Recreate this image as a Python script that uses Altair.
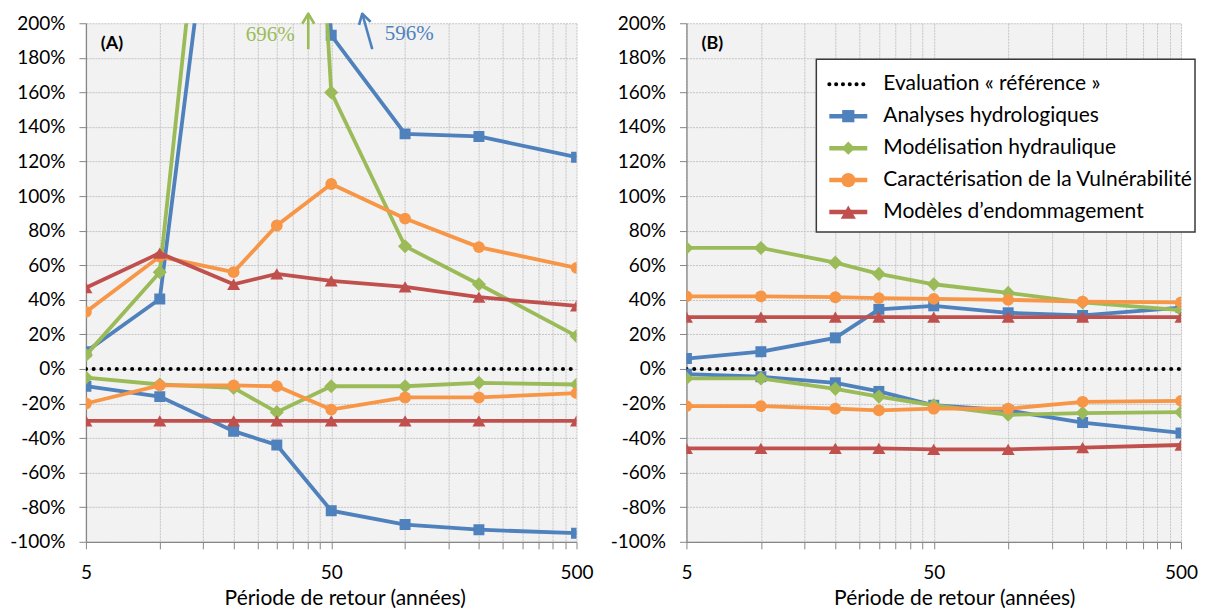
import altair as alt
import pandas as pd

# ---------------- data ----------------
periods = [5, 10, 20, 30, 50, 100, 200, 500]
methods = ["Analyses hydrologiques", "Modélisation hydraulique",
           "Caractérisation de la Vulnérabilité", "Modèles d’endommagement"]
reference_name = "Evaluation « référence »"
reference_values = [0, 0, 0, 0, 0, 0, 0, 0]
colors = ["#4f81bd", "#9bbb59", "#f79646", "#c0504d"]
shapes = ["square", "diamond", "circle", "triangle-up"]
shape_sizes = [120, 200, 140, 170]
legend_shape_sizes = [150, 230, 160, 200]

# Panel (A) – upper / lower bounds (%)
a_hydro_hi = [10, 40.5, 379, 596, 193, 136, 134.5, 122.5]
a_hydro_lo = [-10, -16, -36, -44, -82, -90, -93, -95]
a_hydrau_hi = [8, 56, 457, 696, 160, 71, 49, 19]
a_hydrau_lo = [-5, -9, -11, -25, -10, -10, -8, -9]
a_vuln_hi = [33, 65, 56, 83, 107, 87, 70.5, 58.5]
a_vuln_lo = [-20, -9.5, -9.5, -10, -23.5, -16.5, -16.5, -14]
a_endo_hi = [47, 67, 49, 55, 51, 47.5, 41.5, 36.5]
a_endo_lo = [-30, -30, -30, -30, -30, -30, -30, -30]

# Panel (B)
b_hydro_hi = [6, 10, 18, 34.5, 36.5, 32.5, 31, 35.5]
b_hydro_lo = [-3, -4.5, -8, -13, -21, -24, -31, -37]
b_hydrau_hi = [70, 70, 61.5, 55, 49, 44, 38.5, 34]
b_hydrau_lo = [-5.5, -5.5, -11.5, -16, -21, -26.5, -25.5, -25]
b_vuln_hi = [42, 42, 41.5, 41, 40.5, 40, 39, 38.5]
b_vuln_lo = [-21.5, -21.5, -23, -24, -23, -23, -19, -18.5]
b_endo_hi = [30, 30, 30, 30, 30, 30, 30, 30]
b_endo_lo = [-46, -46, -46, -46, -46.5, -46.5, -45.5, -44]

# axis ticks
x_ticks = [5, 10, 15, 20, 25, 30, 35, 40, 45, 50,
           100, 150, 200, 250, 300, 350, 400, 450, 500]
x_labels = [5, 50, 500]
y_ticks = [-100, -80, -60, -40, -20, 0, 20, 40, 60, 80, 100, 120, 140, 160, 180, 200]

# off-scale annotations in panel (A)
ann_text = ["696%", "596%"]
ann_color = ["#9bbb59", "#4f81bd"]
ann_text_x = [28.2, 104]
ann_text_y = [193, 193.5]
arrow_tail_x = [40.3, 73.5]
arrow_tail_y = [185, 185]
arrow_tip_x = [40.3, 66.9]
arrow_tip_y = [205.5, 205.5]
arrow_angle = [0, 345]

FONT = "Lato"
GRID = "#c4c4c4"
AXIS = "#868686"

panel_data = {
    "A": [(a_hydro_hi, a_hydro_lo), (a_hydrau_hi, a_hydrau_lo),
          (a_vuln_hi, a_vuln_lo), (a_endo_hi, a_endo_lo)],
    "B": [(b_hydro_hi, b_hydro_lo), (b_hydrau_hi, b_hydrau_lo),
          (b_vuln_hi, b_vuln_lo), (b_endo_hi, b_endo_lo)],
}

color_scale = alt.Scale(domain=methods, range=colors)
shape_scale = alt.Scale(domain=methods, range=shapes)
x_scale = alt.Scale(type="log", domain=[5, 500], nice=False)
y_scale = alt.Scale(domain=[-100, 200], nice=False, zero=False)

label_test = " || ".join(f"datum.value == {v}" for v in x_labels)


def make_axes(title_x):
    xa = alt.Axis(values=x_ticks, labelExpr=f"({label_test}) ? datum.value : ''",
                  labelOverlap=False, labelFlush=False, labelFont=FONT, labelFontSize=19,
                  labelColor="black", labelPadding=15, tickSize=7, tickColor=AXIS,
                  domainColor=AXIS, domainWidth=1.3, grid=True, gridColor=GRID,
                  gridDash=[2, 1], gridWidth=1, title="Période de retour (années)",
                  titleFont=FONT, titleFontSize=21, titleFontWeight="normal",
                  titleColor="black", titleX=title_x, titleY=57, titleBaseline="middle")
    ya = alt.Axis(values=y_ticks, labelExpr="datum.value + '%'", labelFont=FONT,
                  labelFontSize=19, labelColor="black", labelPadding=14, tickSize=7,
                  tickColor=AXIS, domainColor=AXIS, domainWidth=1.3, grid=True,
                  gridColor=GRID, gridDash=[2, 1], gridWidth=1, title=None)
    return xa, ya


def make_panel(panel, title_x):
    xa, ya = make_axes(title_x)
    X = alt.X("period:Q", scale=x_scale, axis=xa)
    Y = alt.Y("value:Q", scale=y_scale, axis=ya)
    layers = []
    ref_df = pd.DataFrame({"period": periods, "value": reference_values})
    layers.append(alt.Chart(ref_df).mark_line(
        color="black", strokeWidth=4, strokeDash=[0.1, 7.6], strokeCap="round", clip=True
    ).encode(x=X, y=Y))
    for i, m in enumerate(methods):
        hi, lo = panel_data[panel][i]
        rows = []
        for bound, vals in (("hi", hi), ("lo", lo)):
            for p, v in zip(periods, vals):
                rows.append({"series": m, "bound": bound, "period": p, "value": v})
        df = pd.DataFrame(rows)
        base = alt.Chart(df)
        layers.append(base.mark_line(strokeWidth=3.8, clip=True).encode(
            x=X, y=Y, detail="bound:N",
            color=alt.Color("series:N", scale=color_scale, legend=None)))
        layers.append(base.mark_point(filled=True, opacity=1, size=shape_sizes[i], clip=True).encode(
            x=X, y=Y,
            color=alt.Color("series:N", scale=color_scale, legend=None),
            shape=alt.Shape("series:N", scale=shape_scale, legend=None)))
    if panel == "A":
        ann = pd.DataFrame({"text": ann_text, "col": ann_color, "tx": ann_text_x,
                            "ty": ann_text_y, "x0": arrow_tail_x, "y0": arrow_tail_y,
                            "x1": arrow_tip_x, "y1": arrow_tip_y, "ang": arrow_angle})
        ab = alt.Chart(ann)
        layers.append(ab.mark_rule(strokeWidth=2.6).encode(
            x=alt.X("x0:Q", scale=x_scale, axis=xa), y=alt.Y("y0:Q", scale=y_scale, axis=ya),
            x2="x1:Q", y2="y1:Q", color=alt.Color("col:N", scale=None)))
        layers.append(ab.mark_point(shape="M -0.6 1 L 0 0 L 0.6 1", filled=False, size=400,
                                    strokeWidth=2.6, strokeJoin="round", opacity=1).encode(
            x=alt.X("x1:Q", scale=x_scale, axis=xa), y=alt.Y("y1:Q", scale=y_scale, axis=ya),
            angle=alt.Angle("ang:Q", scale=None), color=alt.Color("col:N", scale=None)))
        layers.append(ab.mark_text(font="Liberation Serif", fontSize=21).encode(
            x=alt.X("tx:Q", scale=x_scale, axis=xa), y=alt.Y("ty:Q", scale=y_scale, axis=ya),
            text="text:N", color=alt.Color("col:N", scale=None)))
    lab = pd.DataFrame({"label": [f"({panel})"]})
    layers.append(alt.Chart(lab).mark_text(font=FONT, fontSize=18, fontWeight="bold",
                                           color="black").encode(
        x=alt.value(26), y=alt.value(21), text="label:N"))
    return alt.layer(*layers)


panel_a = make_panel("A", 259).properties(width=491, height=519)

data_b = make_panel("B", 268)

# legend (panel B)
legend_names = [reference_name] + methods
leg_df = pd.DataFrame({"series": legend_names})
LY = alt.Y("series:N", scale=alt.Scale(type="point", domain=legend_names, range=[61, 189],
                                       padding=0), axis=None)
LSIZE = alt.Size("series:N", scale=alt.Scale(domain=methods, range=legend_shape_sizes),
                 legend=None)
box = alt.Chart(pd.DataFrame({"k": [0]})).mark_rect(
    fill="white", stroke="#3a3a3a", strokeWidth=1.5
).encode(x=alt.value(130), x2=alt.value(509), y=alt.value(36), y2=alt.value(209))
leg_base = alt.Chart(leg_df)
leg_ref = leg_base.transform_filter(alt.datum.series == reference_name).mark_rule(
    color="black", strokeWidth=4, strokeDash=[0.1, 6.7], strokeCap="round"
).encode(x=alt.value(143), x2=alt.value(181), y=LY)
leg_lines = leg_base.transform_filter(alt.datum.series != reference_name).mark_rule(
    strokeWidth=4.5
).encode(x=alt.value(143), x2=alt.value(181), y=LY,
         color=alt.Color("series:N", scale=color_scale, legend=None))
leg_pts = leg_base.transform_filter(alt.datum.series != reference_name).mark_point(
    filled=True, opacity=1
).encode(x=alt.value(162), y=LY, size=LSIZE,
         color=alt.Color("series:N", scale=color_scale, legend=None),
         shape=alt.Shape("series:N", scale=shape_scale, legend=None))
leg_txt = leg_base.mark_text(align="left", baseline="middle", font=FONT, fontSize=21,
                             color="black").encode(x=alt.value(197), y=LY, text="series:N")
legend_layer = alt.layer(box, leg_ref, leg_lines, leg_pts, leg_txt)

panel_b = alt.layer(data_b, legend_layer).resolve_scale(y="independent").properties(
    width=495, height=519)

chart = alt.hconcat(panel_a, panel_b, spacing=110, bounds="flush").properties(
    padding={"left": 1, "top": 3, "right": 5, "bottom": 0}
).configure(font=FONT).configure_view(fill="#f2f2f2", stroke="transparent")

chart.save("out.html", embed_options={"renderer": "svg", "actions": False})
